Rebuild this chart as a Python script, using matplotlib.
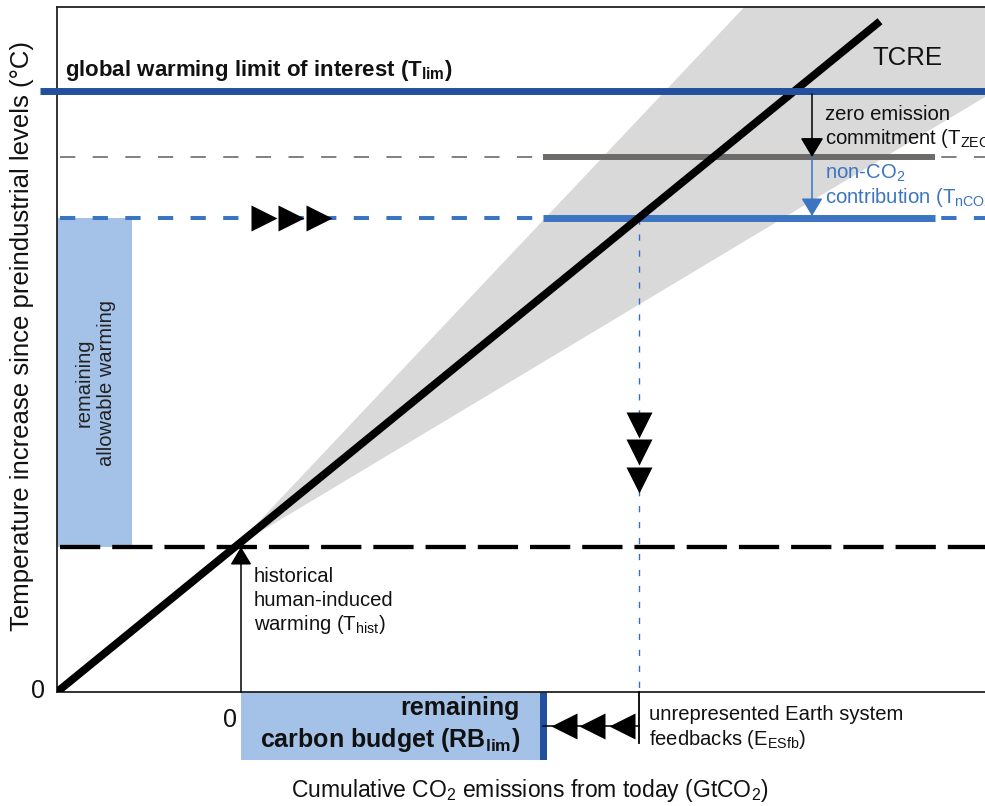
import matplotlib
matplotlib.use("Agg")
import matplotlib.pyplot as plt
from matplotlib.patches import Rectangle, Polygon

plt.rcParams['font.family'] = ['Liberation Sans', 'DejaVu Sans']
plt.rcParams['mathtext.fontset'] = 'custom'
plt.rcParams['mathtext.rm'] = 'Liberation Sans'
plt.rcParams['mathtext.bf'] = 'Liberation Sans:bold'
plt.rcParams['mathtext.it'] = 'Liberation Sans:italic'
plt.rcParams['lines.scale_dashes'] = False

# ---- schematic quantities (arbitrary units) ----
X_MAX = 9.28          # cumulative emissions axis extent
Y_MAX = 6.85          # temperature axis extent
TCRE = 0.815          # warming per unit cumulative emission
TCRE_LINE_END = 8.23  # end of drawn TCRE line
TCRE_UPPER = 1.06     # upper slope of uncertainty wedge
TCRE_LOWER = 0.60     # lower slope of uncertainty wedge
T_HIST = 1.45         # historical human-induced warming
T_LIM = 6.01          # global warming limit of interest
T_ZEC = 0.66          # zero emission commitment
T_NCO2 = 0.61         # non-CO2 contribution
E_TODAY = 1.84        # "0" of cumulative emissions from today
E_ESFB = 0.96         # unrepresented Earth system feedbacks
LEVEL_LINE_START = 4.86
LEVEL_LINE_END = 8.78
ARROW_X = 7.55
ALLOW_BAR_WIDTH = 0.75
BUDGET_DEPTH = 0.68

RIGHT_TRI_X = [2.07, 2.34, 2.615]
DOWN_TRI_Y = [2.675, 2.405, 2.125]
LEFT_TRI_X = [5.07, 5.35, 5.645]
ESFB_Y = -0.34

T_ZEC_LEVEL = T_LIM - T_ZEC
T_NCO2_LEVEL = T_ZEC_LEVEL - T_NCO2
X_CROSS = T_NCO2_LEVEL / TCRE
BUDGET_END = X_CROSS - E_ESFB

DARK_BLUE = '#21509d'
MID_BLUE = '#3b74c1'
LIGHT_BLUE = '#a4c2e8'
GREY_LINE = '#6d6a6a'
WEDGE = '#d9d9d9'
TXT = '#111111'

fig = plt.figure(figsize=(9.85, 8.06), dpi=100)
ax = fig.add_axes([57/985, 114/806, 928/985, 685/806])
ax.set_xlim(0, X_MAX)
ax.set_ylim(0, Y_MAX)
ax.set_xticks([])
ax.set_yticks([])
ax.spines['right'].set_visible(False)
for s in ['left', 'bottom', 'top']:
    ax.spines[s].set_linewidth(1.3)
    ax.spines[s].set_color('#222222')

# uncertainty wedge
apex_x = T_HIST / TCRE
L = 20
ax.add_patch(Polygon([(apex_x, T_HIST),
                      (apex_x + L, T_HIST + L * TCRE_UPPER),
                      (apex_x + L, T_HIST + L * TCRE_LOWER)],
                     closed=True, facecolor=WEDGE, edgecolor='none', zorder=1))

# remaining allowable warming bar
ax.add_patch(Rectangle((0, T_HIST), ALLOW_BAR_WIDTH, T_NCO2_LEVEL - T_HIST,
                       facecolor=LIGHT_BLUE, edgecolor='none', zorder=1))

# dashed level lines
l, = ax.plot([0.03, X_MAX], [T_ZEC_LEVEL] * 2, color=GREY_LINE, lw=1.2, zorder=2)
l.set_dashes([11, 12.5])
l, = ax.plot([0.03, X_MAX], [T_NCO2_LEVEL] * 2, color=MID_BLUE, lw=2.9, zorder=2)
l.set_dashes([11, 12.5])
l, = ax.plot([0.03, X_MAX], [T_HIST] * 2, color='black', lw=3.1, zorder=2)
l.set_dashes([29, 8.6])

# solid level lines
ax.plot([LEVEL_LINE_START, LEVEL_LINE_END], [T_ZEC_LEVEL] * 2, color=GREY_LINE,
        lw=4.3, solid_capstyle='butt', zorder=3)
ax.plot([LEVEL_LINE_START, LEVEL_LINE_END], [T_NCO2_LEVEL] * 2, color=MID_BLUE,
        lw=5, solid_capstyle='butt', zorder=3)

# blue dotted vertical at TCRE crossing
l, = ax.plot([X_CROSS, X_CROSS], [T_NCO2_LEVEL, 0], color='#2f6fd0', lw=1.0, zorder=2)
l.set_dashes([4.5, 7])

# TCRE line
ax.plot([0, TCRE_LINE_END], [0, TCRE * TCRE_LINE_END], color='black', lw=5.6,
        solid_capstyle='butt', zorder=4)

# T_lim line
ax.plot([-0.17, X_MAX], [T_LIM] * 2, color=DARK_BLUE, lw=5, solid_capstyle='butt',
        zorder=5, clip_on=False)

# arrows
ax.annotate('', xy=(E_TODAY, T_HIST), xytext=(E_TODAY, 0),
            arrowprops=dict(arrowstyle='-|>,head_length=0.55,head_width=0.33',
                            mutation_scale=20, color='black', lw=1.1,
                            shrinkA=0, shrinkB=0), zorder=6)
ax.annotate('', xy=(ARROW_X, T_ZEC_LEVEL), xytext=(ARROW_X, T_LIM - 0.03),
            arrowprops=dict(arrowstyle='-|>,head_length=0.6,head_width=0.36',
                            mutation_scale=20, color='black', lw=1.1,
                            shrinkA=0, shrinkB=0), zorder=6)
ax.annotate('', xy=(ARROW_X, T_NCO2_LEVEL + 0.02), xytext=(ARROW_X, T_ZEC_LEVEL),
            arrowprops=dict(arrowstyle='-|>,head_length=0.55,head_width=0.33',
                            mutation_scale=20, color=MID_BLUE, lw=1.1,
                            shrinkA=0, shrinkB=0), zorder=6)

# triangles
ax.plot(RIGHT_TRI_X, [T_NCO2_LEVEL] * 3, linestyle='none', marker='>', ms=19,
        color='black', mec='none', zorder=6)
ax.plot([X_CROSS] * 3, DOWN_TRI_Y, linestyle='none', marker='v', ms=19,
        color='black', mec='none', zorder=6)
ax.plot(LEFT_TRI_X, [ESFB_Y] * 3, linestyle='none', marker='<', ms=19,
        color='black', mec='none', zorder=6, clip_on=False)

# remaining carbon budget box
ax.add_patch(Rectangle((E_TODAY, -BUDGET_DEPTH), BUDGET_END - E_TODAY, BUDGET_DEPTH,
                       facecolor=LIGHT_BLUE, edgecolor='none', clip_on=False, zorder=1))
ax.add_patch(Rectangle((BUDGET_END - 0.025, -BUDGET_DEPTH), 0.07, BUDGET_DEPTH,
                       facecolor=DARK_BLUE, edgecolor='none', clip_on=False, zorder=2))

# ESfb bracket
ax.plot([BUDGET_END, X_CROSS], [ESFB_Y] * 2, color='black', lw=1.1, clip_on=False, zorder=3)
ax.plot([X_CROSS, X_CROSS], [0, -0.51], color='black', lw=1.3, clip_on=False, zorder=3)

# texts
FS = 14.6
ax.text(0.08, 6.16, r'global warming limit of interest (T$_{\mathbf{lim}}$)',
        fontsize=16, fontweight='bold', color=TXT, va='baseline', ha='left')
ax.text(8.15, 6.27, 'TCRE', fontsize=18.5, color=TXT, va='baseline', ha='left')
ax.text(7.68, 5.72, 'zero emission', fontsize=FS, color=TXT, va='baseline')
ax.text(7.68, 5.48, r'commitment (T$_{\mathrm{ZEC}}$)', fontsize=FS, color=TXT,
        va='baseline')
ax.text(7.68, 5.13, r'non-CO$_{2}$', fontsize=FS, color=MID_BLUE, va='baseline')
ax.text(7.68, 4.89, r'contribution (T$_{\mathrm{nCO2}}$)', fontsize=FS, color=MID_BLUE,
        va='baseline')
ax.text(1.97, 1.10, 'historical', fontsize=FS, color=TXT, va='baseline')
ax.text(1.97, 0.86, 'human-induced', fontsize=FS, color=TXT, va='baseline')
ax.text(1.97, 0.62, r'warming (T$_{\mathrm{hist}}$)', fontsize=FS, color=TXT,
        va='baseline')
ax.text(5.92, -0.28, 'unrepresented Earth system', fontsize=FS, color=TXT,
        va='baseline')
ax.text(5.92, -0.53, r'feedbacks (E$_{\mathrm{ESfb}}$)', fontsize=FS, color=TXT,
        va='baseline')
ax.text(4.63, -0.23, 'remaining', fontsize=18, fontweight='bold', color=TXT,
        va='baseline', ha='right')
ax.text(4.63, -0.55, r'carbon budget (RB$_{\mathbf{lim}}$)', fontsize=18,
        fontweight='bold', color=TXT, va='baseline', ha='right')
ax.text(0.38, 3.09, 'remaining\nallowable warming', fontsize=14.5, color='#222222',
        rotation=90, ha='center', va='center', multialignment='center')
ax.text(-0.19, -0.06, '0', fontsize=18, color=TXT, ha='center', va='baseline')
ax.text(E_TODAY - 0.11, -0.35, '0', fontsize=18, color=TXT, ha='center', va='baseline')
ax.text(4.73, -1.05, r'Cumulative CO$_{2}$ emissions from today (GtCO$_{2}$)',
        fontsize=16.5, color=TXT, ha='center', va='baseline')
ax.text(-0.35, 3.56, 'Temperature increase since preindustrial levels (°C)',
        fontsize=18.5, color=TXT, ha='center', va='center', rotation=90)

fig.savefig('out.png', dpi=100)
